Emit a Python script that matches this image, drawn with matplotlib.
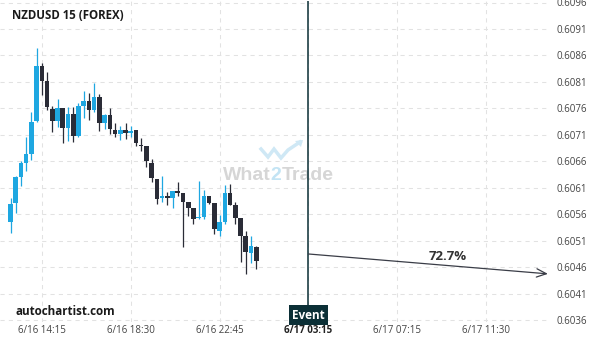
import numpy as np
import matplotlib
matplotlib.use("Agg")
import matplotlib.pyplot as plt

plt.rcParams['font.family'] = ['Open Sans', 'DejaVu Sans']

# 15 minute candles, NZDUSD
opens = [0.60546, 0.60581, 0.60631, 0.60658, 0.60675, 0.60737, 0.60840, 0.60812, 0.60759, 0.60737,
         0.60761, 0.60724, 0.60750, 0.60709, 0.60765, 0.60774, 0.60758, 0.60782, 0.60733, 0.60748,
         0.60719, 0.60712, 0.60719, 0.60713, 0.60719, 0.60692, 0.60689, 0.60658, 0.60627, 0.60591,
         0.60595, 0.60592, 0.60604, 0.60601, 0.60584, 0.60572, 0.60553, 0.60556, 0.60595, 0.60581,
         0.60529, 0.60546, 0.60601, 0.60578, 0.60553, 0.60519, 0.60488, 0.60499]
highs = [0.60591, 0.60633, 0.60661, 0.60707, 0.60753, 0.60874, 0.60845, 0.60829, 0.60765, 0.60777,
         0.60761, 0.60762, 0.60762, 0.60770, 0.60793, 0.60789, 0.60808, 0.60787, 0.60750, 0.60760,
         0.60733, 0.60727, 0.60732, 0.60727, 0.60719, 0.60704, 0.60689, 0.60665, 0.60627, 0.60632,
         0.60602, 0.60604, 0.60621, 0.60601, 0.60584, 0.60572, 0.60623, 0.60606, 0.60595, 0.60581,
         0.60559, 0.60615, 0.60618, 0.60584, 0.60553, 0.60528, 0.60519, 0.60501]
lows = [0.60525, 0.60563, 0.60614, 0.60642, 0.60663, 0.60735, 0.60785, 0.60757, 0.60715, 0.60725,
        0.60694, 0.60699, 0.60696, 0.60707, 0.60742, 0.60738, 0.60754, 0.60717, 0.60721, 0.60712,
        0.60707, 0.60701, 0.60702, 0.60706, 0.60689, 0.60680, 0.60649, 0.60622, 0.60579, 0.60584,
        0.60577, 0.60573, 0.60594, 0.60498, 0.60558, 0.60543, 0.60551, 0.60551, 0.60580, 0.60523,
        0.60520, 0.60542, 0.60578, 0.60543, 0.60470, 0.60448, 0.60468, 0.60457]
closes = [0.60580, 0.60631, 0.60657, 0.60674, 0.60735, 0.60840, 0.60812, 0.60762, 0.60737, 0.60761,
          0.60724, 0.60750, 0.60709, 0.60765, 0.60774, 0.60758, 0.60782, 0.60733, 0.60748, 0.60721,
          0.60711, 0.60719, 0.60713, 0.60718, 0.60694, 0.60690, 0.60660, 0.60628, 0.60589, 0.60595,
          0.60592, 0.60604, 0.60601, 0.60584, 0.60572, 0.60552, 0.60556, 0.60595, 0.60582, 0.60532,
          0.60545, 0.60601, 0.60578, 0.60554, 0.60520, 0.60489, 0.60501, 0.60472]

xtick_idx = [6, 23, 40, 57, 74, 91]
xtick_labels = ["6/16 14:15", "6/16 18:30", "6/16 22:45", "6/17 03:15", "6/17 07:15", "6/17 11:30"]
yticks = [0.6036, 0.6041, 0.6046, 0.6051, 0.6056, 0.6061, 0.6066, 0.6071, 0.6076, 0.6081, 0.6086, 0.6091, 0.6096]

event_idx = 57
forecast_idx = 102.8
forecast_start = 0.604855
forecast_end = 0.60448
probability = "72.7%"
prob_pos = (83.6, 0.60480)

UP = '#1ea7e1'
DOWN = '#2a2c37'
EVENT = '#0b2f36'

W, H = 600, 340
fig = plt.figure(figsize=(W / 100, H / 100), dpi=100)
ax = fig.add_axes([0, 18 / H, 550 / W, 321 / H])
px = 53000.0  # pixels per price unit
ax.set_ylim(0.6036 - 1.5 / px, 0.6096 + 1.5 / px)
ax.set_xlim(-2.01, 103.2)
for s in ax.spines.values():
    s.set_visible(False)

ax.grid(True, color='#e2e2e2', linestyle=(0, (4, 4)), linewidth=0.75)
ax.set_axisbelow(True)

idx = np.arange(len(opens))
o = np.array(opens); c = np.array(closes)
cols = [UP if cc >= oo else DOWN for oo, cc in zip(o, c)]
ax.vlines(idx, lows, highs, colors=cols, linewidth=0.9, zorder=2)
bottoms = np.minimum(o, c)
heights = np.maximum(np.abs(c - o), 1.9e-5)
ax.bar(idx, heights, bottom=bottoms, width=0.88, color=cols, linewidth=0, zorder=3)

# ticks
ax.yaxis.tick_right()
ax.set_yticks(yticks)
ax.set_yticklabels(["%.4f" % v for v in yticks])
ax.tick_params(axis='y', length=0, pad=5, labelsize=7, labelcolor='#444444')
ax.set_xticks(xtick_idx)
ax.set_xticklabels(xtick_labels)
ax.tick_params(axis='x', length=0, pad=2, labelsize=7, labelcolor='#444444')
for lab, i in zip(ax.get_xticklabels(), xtick_idx):
    if i == event_idx:
        lab.set_fontweight('bold')
        lab.set_color('#222222')

# event line + label
ax.axvline(event_idx, ymin=0.04, ymax=1, color=EVENT, linewidth=1.1, zorder=4)
ax.text(event_idx, 0.021, "Event", transform=ax.get_xaxis_transform(), ha='center', va='center',
        fontsize=8.5, fontweight='bold', color='white', zorder=5,
        bbox=dict(boxstyle='square,pad=0.28', facecolor=EVENT, edgecolor='none'))

# forecast arrow
ax.annotate('', xy=(forecast_idx, forecast_end), xytext=(event_idx, forecast_start),
            arrowprops=dict(arrowstyle='->,head_length=0.7,head_width=0.3', color='#3a3d47',
                            linewidth=0.9, shrinkA=0, shrinkB=0), zorder=5)
ax.text(prob_pos[0], prob_pos[1], probability, ha='center', va='center', fontsize=9.5,
        fontweight='bold', color='#333333', zorder=5)

# titles
fig.text(12 / W, 1 - 15.5 / H, "NZDUSD 15 (FOREX)", ha='left', va='center', fontsize=8.3,
         fontweight='bold', color='#1a1a1a')
fig.text(15 / W, 1 - 311.5 / H, "autochartist.com", ha='left', va='center', fontsize=8.4,
         fontweight='bold', color='#1a1a1a')

# watermark, drawn as three chained pieces so the "2" can be blue
wm_font = dict(fontsize=14, fontweight='bold', family=['Liberation Sans', 'DejaVu Sans'], zorder=1)
t1 = ax.annotate("What", xy=(223, H - 180), xycoords='figure pixels', ha='left', va='baseline',
                 color='#d6d6d6', **wm_font)
t2 = ax.annotate("2", xy=(1, 0), xycoords=t1, ha='left', va='bottom', color='#c3e4f4', **wm_font)
t3 = ax.annotate("Trade", xy=(1, 0), xycoords=t2, ha='left', va='bottom', color='#d6d6d6', **wm_font)
logo_x = np.array([261, 268, 274, 281, 288, 300]) / W
logo_y = 1 - np.array([149, 157, 149, 158, 150, 142]) / H
fig.lines.append(plt.Line2D(logo_x, logo_y, transform=fig.transFigure, color='#cfe8f5',
                            linewidth=2.5, solid_joinstyle='miter'))
fig.patches.append(plt.Polygon([[303 / W, 1 - 140 / H], [295 / W, 1 - 141 / H], [301 / W, 1 - 147 / H]],
                               closed=True, transform=fig.transFigure, facecolor='#cfe8f5', edgecolor='none'))

fig.savefig("out.png", dpi=100)
